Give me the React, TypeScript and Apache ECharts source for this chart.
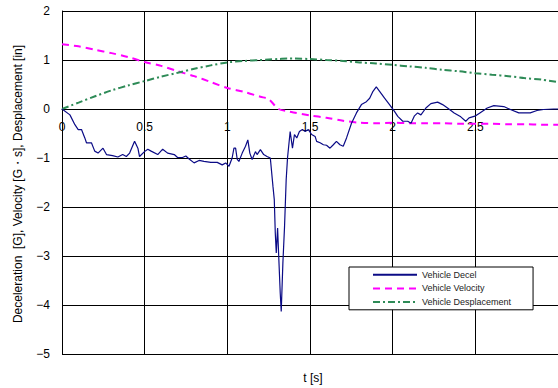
import React, { useEffect, useRef } from "react";
import * as echarts from "echarts";

// Vehicle deceleration [G] vs time [s]
const decelTime = [
  0.0, 0.048, 0.078, 0.098, 0.118, 0.138, 0.148, 0.178, 0.198, 0.218, 0.239, 0.248, 0.269, 0.306, 0.338, 0.367, 0.389,
  0.409, 0.439, 0.459, 0.469, 0.499, 0.519, 0.539, 0.579, 0.609, 0.639, 0.679, 0.699, 0.729, 0.749, 0.769, 0.799,
  0.829, 0.859, 0.9, 0.939, 0.969, 0.99, 1.01, 1.029, 1.04, 1.05, 1.06, 1.07, 1.09, 1.11, 1.124, 1.136, 1.15, 1.17,
  1.18, 1.2, 1.22, 1.24, 1.26, 1.276, 1.284, 1.29, 1.296, 1.304, 1.31, 1.32, 1.326, 1.336, 1.346, 1.356, 1.364,
  1.38, 1.394, 1.406, 1.42, 1.436, 1.454, 1.471, 1.49, 1.51, 1.531, 1.54, 1.561, 1.581, 1.6, 1.621, 1.641, 1.66,
  1.681, 1.701, 1.721, 1.751, 1.781, 1.811, 1.841, 1.861, 1.881, 1.901, 1.921, 1.951, 1.981, 2.011, 2.031, 2.061,
  2.091, 2.111, 2.132, 2.151, 2.171, 2.201, 2.231, 2.272, 2.302, 2.332, 2.372, 2.412, 2.442, 2.462, 2.502, 2.532,
  2.572, 2.612, 2.672, 2.712, 2.763, 2.832, 2.873, 2.913, 2.973, 3.0,
];
const decelValues = [
  0.0, -0.12, -0.32, -0.42, -0.42, -0.59, -0.69, -0.69, -0.86, -0.9, -0.83, -0.8, -0.93, -0.95, -0.98, -0.93, -0.97,
  -0.9, -0.66, -0.8, -0.97, -0.87, -0.82, -0.86, -0.93, -0.82, -0.9, -0.93, -0.99, -0.99, -0.96, -1.02, -1.1,
  -1.05, -1.07, -1.09, -1.09, -1.14, -1.1, -1.17, -1.0, -0.8, -0.8, -1.03, -1.07, -0.9, -0.76, -0.63, -0.9, -1.03, -0.87,
  -0.93, -0.83, -0.93, -0.97, -1.0, -1.58, -1.85, -2.53, -2.94, -2.43, -2.94, -3.76, -4.13, -3.14, -2.4, -1.44, -1.0,
  -0.46, -0.8, -0.52, -0.59, -0.46, -0.42, -0.46, -0.42, -0.52, -0.56, -0.66, -0.69, -0.73, -0.74, -0.8, -0.73, -0.66,
  -0.73, -0.76, -0.59, -0.29, -0.08, 0.09, 0.15, 0.22, 0.36, 0.45, 0.36, 0.22, 0.09, -0.05, -0.15, -0.25,
  -0.25, -0.29, -0.14, -0.08, -0.12, 0.02, 0.11, 0.14, 0.09, 0.02, -0.08, -0.16, -0.25, -0.18, -0.14, -0.07,
  0.02, 0.07, 0.05, -0.01, -0.08, -0.08, -0.03, -0.01, 0.0, 0.0,
];

// Vehicle velocity [G·s] and displacement [in] vs time [s]
const motionTime = [
  0.0, 0.1, 0.2, 0.3, 0.4, 0.5, 0.6, 0.7, 0.8, 0.9, 1.0, 1.1, 1.2, 1.25, 1.31, 1.37, 1.4, 1.5, 1.6, 1.7, 1.8, 1.9,
  2.0, 2.1, 2.2, 2.3, 2.4, 2.5, 2.6, 2.7, 2.8, 2.9, 3.0,
];
const velocityValues = [
  1.32, 1.28, 1.21, 1.14, 1.06, 0.96, 0.88, 0.77, 0.67, 0.55, 0.43, 0.35, 0.25, 0.2, 0.0, -0.05, -0.07, -0.13, -0.18,
  -0.24, -0.28, -0.29, -0.28, -0.29, -0.29, -0.29, -0.3, -0.3, -0.3, -0.31, -0.31, -0.32, -0.32,
];
const displacementValues = [
  0.0, 0.13, 0.26, 0.38, 0.48, 0.57, 0.66, 0.74, 0.82, 0.89, 0.95, 0.98, 1.0, 1.01, 1.02, 1.03, 1.03, 1.02, 1.0, 0.98,
  0.95, 0.93, 0.9, 0.87, 0.84, 0.8, 0.77, 0.73, 0.7, 0.67, 0.63, 0.6, 0.55,
];

const seriesNames = ["Vehicle Decel", "Vehicle Velocity", "Vehicle Desplacement"];
const yAxisTitle = "Deceleration  [G], Velocity [G\u30fbs], Desplacement [in]";
const xAxisTitle = "t [s]";

const Y_MIN = -5;
const Y_MAX = 2;
const GRID_TOP = 11;
const GRID_HEIGHT = 343;

const pairs = (xs: number[], ys: number[]) => xs.map((x, i) => [x, ys[i]]);

const FONT = "'Liberation Sans', Arial, sans-serif";

export default function App() {
  const ref = useRef<HTMLDivElement>(null);
  useEffect(() => {
    document.body.style.margin = "0";
    const chart = echarts.init(ref.current!, null, { renderer: "svg" });
    // shift the x axis (line + labels) up from the bottom edge to the y = 0 line
    const zeroOffset = -(GRID_HEIGHT * (0 - Y_MIN)) / (Y_MAX - Y_MIN);
    chart.setOption({
      animation: false,
      backgroundColor: "#fff",
      grid: { left: 62, top: GRID_TOP, width: 499, height: GRID_HEIGHT },
      xAxis: {
        type: "value",
        min: 0,
        max: 3,
        interval: 0.5,
        position: "bottom",
        offset: zeroOffset,
        axisLine: { show: true, onZero: false, lineStyle: { color: "#000", width: 1 } },
        axisTick: { show: false },
        axisLabel: { color: "#000", fontSize: 12, fontFamily: FONT, margin: 12, showMaxLabel: false },
        splitLine: { show: true, lineStyle: { color: "#000", width: 1 } },
      },
      yAxis: {
        type: "value",
        min: Y_MIN,
        max: Y_MAX,
        interval: 1,
        axisLine: { show: true, onZero: false, lineStyle: { color: "#000", width: 1 } },
        axisTick: { show: false },
        axisLabel: {
          color: "#000",
          fontSize: 12,
          fontFamily: FONT,
          margin: 12,
          formatter: (v: number) => String(v).replace("-", "\u2212"),
        },
        splitLine: { show: true, lineStyle: { color: "#000", width: 1 } },
      },
      legend: {
        orient: "vertical",
        left: 349,
        top: 267,
        backgroundColor: "#fff",
        borderColor: "#000",
        borderWidth: 1,
        padding: [3, 22, 3, 23],
        itemGap: 4,
        itemWidth: 44,
        itemHeight: 12,
        itemStyle: { opacity: 0 },
        textStyle: { fontSize: 9, fontFamily: FONT, color: "#222" },
        data: seriesNames,
      },
      graphic: [
        {
          type: "text",
          x: 18,
          y: 184,
          rotation: Math.PI / 2,
          style: {
            text: yAxisTitle,
            fontSize: 12,
            fontFamily: FONT,
            fill: "#000",
            align: "center",
            verticalAlign: "middle",
          },
        },
        {
          type: "text",
          x: 313,
          y: 378,
          style: {
            text: xAxisTitle,
            fontSize: 12,
            fontFamily: FONT,
            fill: "#000",
            align: "center",
            verticalAlign: "middle",
          },
        },
      ],
      series: [
        {
          name: seriesNames[0],
          type: "line",
          symbol: "none",
          data: pairs(decelTime, decelValues),
          lineStyle: { color: "#0b0b86", width: 1.2 },
          itemStyle: { color: "#0b0b86" },
          z: 3,
        },
        {
          name: seriesNames[1],
          type: "line",
          symbol: "none",
          smooth: 0.3,
          data: pairs(motionTime, velocityValues),
          lineStyle: { color: "#ff00ff", width: 2, type: [7, 5] },
          itemStyle: { color: "#ff00ff" },
          z: 2,
        },
        {
          name: seriesNames[2],
          type: "line",
          symbol: "none",
          smooth: 0.3,
          data: pairs(motionTime, displacementValues),
          lineStyle: { color: "#2e8b57", width: 2, type: [7, 3, 2, 3] },
          itemStyle: { color: "#2e8b57" },
          z: 2,
        },
      ],
    });
    return () => chart.dispose();
  }, []);
  return <div ref={ref} style={{ width: 558, height: 388 }} />;
}
